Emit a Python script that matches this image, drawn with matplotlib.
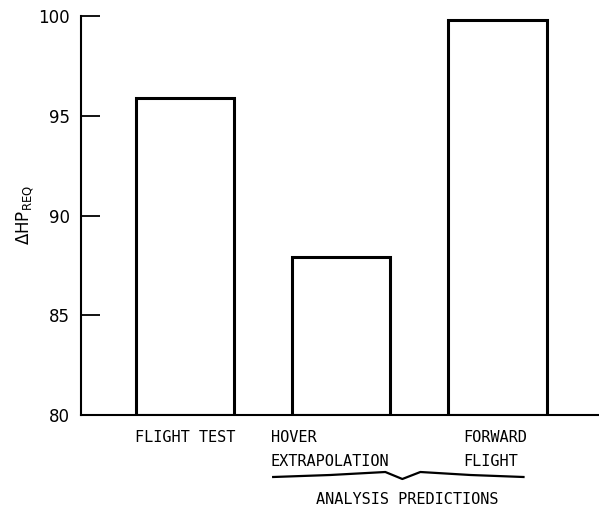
import matplotlib
matplotlib.use("Agg")
import matplotlib.pyplot as plt
from matplotlib.transforms import blended_transform_factory

categories = ["FLIGHT TEST", "HOVER\nEXTRAPOLATION", "FORWARD\nFLIGHT"]
values = [95.9, 87.9, 99.8]
group_label = "ANALYSIS PREDICTIONS"
yticks = [80, 85, 90, 95, 100]

fig = plt.figure(figsize=(5.99, 5.15), dpi=100)
ax = fig.add_axes([0.135, 0.194, 0.865, 0.775])

x = list(range(len(values)))
ax.bar(x, [v - 80 for v in values], bottom=80, width=0.63, facecolor="white",
       edgecolor="black", linewidth=2.2)

ax.set_ylim(80, 100)
ax.set_xlim(-0.667, 2.65)
ax.set_yticks(yticks)
ax.set_yticklabels([str(t) for t in yticks], fontsize=12, family="DejaVu Sans")
ax.tick_params(axis="y", direction="in", length=14, width=1.3, pad=8)
ax.set_xticks([])
for s in ["top", "right"]:
    ax.spines[s].set_visible(False)
ax.spines["left"].set_linewidth(1.5)
ax.spines["bottom"].set_linewidth(1.5)

fig.text(25 / 599, 1 - 215 / 515, r"$\Delta$HP$_{\mathrm{REQ}}$", fontsize=12,
         rotation=90, ha="center", va="center")

trans = blended_transform_factory(ax.transData, fig.transFigure)
mono = dict(family="DejaVu Sans Mono", fontsize=11)
ax.text(x[0], 1 - 438 / 515, categories[0], transform=trans, ha="center", va="center", **mono)
ax.text(x[1] - 0.45, 1 - 449.5 / 515, categories[1], transform=trans, ha="left", va="center",
        linespacing=1.75, **mono)
ax.text(x[2] - 0.22, 1 - 449.5 / 515, categories[2], transform=trans, ha="left", va="center",
        linespacing=1.75, **mono)

# brace (positions in pixels converted to figure fraction for y, data for x)
def px(xp):
    return (xp - 185) / 156.0

def fy(yp):
    return 1 - yp / 515

bx = [273, 330, 385, 402, 420, 470, 523]
by = [477, 475, 472, 479, 472, 475, 477]
ax.plot([px(v) for v in bx], [fy(v) for v in by],
        transform=trans, color="black", lw=1.6, clip_on=False)
ax.text(px(407), fy(500), group_label, transform=trans, ha="center", va="center", **mono)

fig.savefig("out.png", dpi=100)
